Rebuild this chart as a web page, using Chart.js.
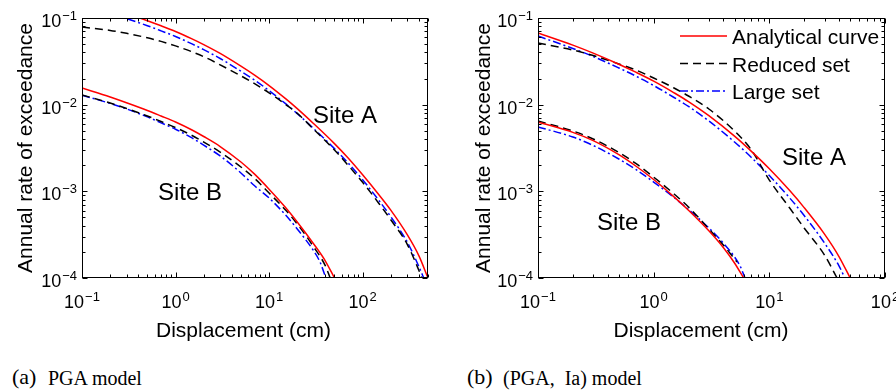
<!DOCTYPE html>
<html>
<head>
<meta charset="utf-8">
<script src="https://cdn.jsdelivr.net/npm/chart.js@4"></script>
<style>
  body { margin: 0; width: 896px; height: 391px; background: #fff; position: relative; overflow: hidden; }
  canvas { position: absolute; top: 0; }
  .cap { position: absolute; top: 368px; line-height: 20px; font-family: "Liberation Serif", "Times New Roman", serif; font-size: 20px; white-space: pre; color: #000; }
  .cap.big { font-size: 22px; top: 367px; }
</style>
</head>
<body>
<canvas id="chartA" width="448" height="350" style="left:0"></canvas>
<canvas id="chartB" width="448" height="350" style="left:448px"></canvas>
<div class="cap big" style="left:12px">(a)</div>
<div class="cap" style="left:48px">PGA model</div>
<div class="cap big" style="left:467px">(b)</div>
<div class="cap" style="left:503px">(PGA,  Ia) model</div>

<script>
// ---- (a) PGA model ----
const aSiteA_analyticalX = [0.1, 0.2, 0.3, 0.5, 0.7, 1, 1.5, 2, 3, 5, 7, 10, 15, 20, 30, 50, 70, 100, 150, 200, 300, 400, 500];
const aSiteA_analytical  = [0.164, 0.130, 0.1127, 0.0931, 0.0813, 0.0699, 0.0574, 0.0493, 0.039, 0.0278, 0.0219, 0.0166, 0.01172, 0.009,
                            0.00603, 0.00355, 0.00242, 0.00155, 9.07e-4, 6.06e-4, 3.16e-4, 1.8e-4, 1.0e-4];
const aSiteA_reducedX    = [0.1, 0.2, 0.3, 0.5, 0.7, 1, 1.5, 2, 3, 5, 7, 10, 15, 20, 30, 50, 70, 100, 150, 200, 300, 400, 430];
const aSiteA_reduced     = [0.0787, 0.0719, 0.0666, 0.0591, 0.0537, 0.0477, 0.0407, 0.0358, 0.0288, 0.0215, 0.01746, 0.0137, 0.01007, 0.00795,
                            0.0052, 0.003, 0.002, 0.00127, 7.2e-4, 4.7e-4, 2.45e-4, 1.22e-4, 1.0e-4];
const aSiteA_largeX      = [0.1, 0.2, 0.3, 0.5, 0.7, 1, 1.5, 2, 3, 5, 7, 10, 15, 20, 30, 50, 70, 100, 150, 200, 300, 400, 450];
const aSiteA_large       = [0.143, 0.114, 0.0986, 0.0815, 0.0711, 0.0612, 0.0502, 0.0431, 0.0341, 0.0243, 0.0192, 0.01453, 0.01026, 0.00788,
                            0.00528, 0.00311, 0.00212, 0.00136, 7.8e-4, 5.1e-4, 2.6e-4, 1.35e-4, 1.0e-4];

const aSiteB_analyticalX = [0.1, 0.2, 0.3, 0.5, 0.7, 1, 1.5, 2, 3, 5, 7, 10, 15, 20, 30, 40, 50];
const aSiteB_analytical  = [0.01557, 0.01227, 0.01051, 0.00857, 0.0074, 0.00631, 0.0051, 0.00429, 0.00329, 0.00218, 0.00158, 0.00106,
                            6.51e-4, 4.43e-4, 2.47e-4, 1.57e-4, 1.0e-4];
const aSiteB_reducedX    = [0.1, 0.2, 0.3, 0.5, 0.7, 1, 1.5, 2, 3, 5, 7, 10, 15, 20, 30, 40, 45];
const aSiteB_reduced     = [0.01293, 0.01045, 0.00903, 0.0074, 0.00639, 0.00545, 0.00441, 0.00371, 0.00284, 0.00191, 0.00141, 9.57e-4,
                            6.09e-4, 4.2e-4, 2.28e-4, 1.38e-4, 1.0e-4];
const aSiteB_largeX      = [0.1, 0.2, 0.3, 0.5, 0.7, 1, 1.5, 2, 3, 5, 7, 10, 15, 20, 30, 35, 40.5];
const aSiteB_large       = [0.01283, 0.01034, 0.00893, 0.00723, 0.00617, 0.00521, 0.00413, 0.00341, 0.00256, 0.00163, 0.00116, 8.38e-4,
                            5.33e-4, 3.68e-4, 2.05e-4, 1.53e-4, 1.0e-4];

// ---- (b) (PGA, Ia) model ----
const bSiteA_analyticalX = [0.1, 0.2, 0.3, 0.5, 0.7, 1, 1.5, 2, 3, 5, 7, 10, 15, 20, 30, 40, 50];
const bSiteA_analytical  = [0.0671, 0.0486, 0.0393, 0.0293, 0.0237, 0.01866, 0.01371, 0.01085, 0.00746, 0.00433, 0.00289, 0.00182,
                            0.00102, 6.49e-4, 3.21e-4, 1.77e-4, 1.0e-4];
const bSiteA_reducedX    = [0.1, 0.2, 0.3, 0.5, 0.7, 1, 1.5, 2, 3, 5, 7, 10, 15, 20, 30, 38.5];
const bSiteA_reduced     = [0.0515, 0.0427, 0.0369, 0.0295, 0.0251, 0.0203, 0.01557, 0.01259, 0.00891, 0.00497, 0.0030, 0.00135,
                            6.42e-4, 3.78e-4, 1.84e-4, 1.0e-4];
const bSiteA_largeX      = [0.1, 0.2, 0.3, 0.5, 0.7, 1, 1.5, 2, 3, 5, 7, 10, 15, 20, 30, 40, 45];
const bSiteA_large       = [0.062, 0.0445, 0.036, 0.0265, 0.0214, 0.01664, 0.0121, 0.00953, 0.00648, 0.00371, 0.00246, 0.00152,
                            8.38e-4, 5.26e-4, 2.53e-4, 1.38e-4, 1.0e-4];

const bSiteB_analyticalX = [0.1, 0.2, 0.3, 0.5, 0.7, 1, 1.5, 2, 3, 4, 5, 6];
const bSiteB_analytical  = [0.00631, 0.00479, 0.00385, 0.00265, 0.00196, 0.00137, 8.63e-4, 6.06e-4, 3.51e-4, 2.25e-4, 1.49e-4, 1.0e-4];
const bSiteB_reducedX    = [0.1, 0.2, 0.3, 0.5, 0.7, 1, 1.5, 2, 3, 4, 5.25];
const bSiteB_reduced     = [0.00648, 0.00497, 0.00402, 0.00281, 0.0021, 0.00146, 9.32e-4, 6.6e-4, 3.68e-4, 2.4e-4, 1.53e-4];
const bSiteB_largeX      = [0.1, 0.2, 0.3, 0.5, 0.7, 1, 1.5, 2, 3, 4, 5, 5.58, 6.16];
const bSiteB_large       = [0.00553, 0.00424, 0.00338, 0.00236, 0.00179, 0.00128, 8.49e-4, 6.17e-4, 3.78e-4, 2.53e-4, 1.75e-4, 1.38e-4, 1.0e-4];

// axes
const xExpA = [-1, 0, 1, 2];      // decade labels, left plot (x up to 500)
const xExpB = [-1, 0, 1, 2];
const yExp  = [-4, -3, -2, -1];
const seriesNames = ['Analytical curve', 'Reduced set', 'Large set'];

const FONT = '"Liberation Sans", Arial, Helvetica, sans-serif';

const styles = [
  { borderColor: '#ff0000', borderDash: [] },
  { borderColor: '#000000', borderDash: [8, 5] },
  { borderColor: '#0000ff', borderDash: [8, 3, 2, 3] }
];

function pts(xs, ys) {
  return xs.map((x, i) => ({ x: x, y: ys[i] }));
}

function ds(xs, ys, k) {
  return {
    label: seriesNames[k],
    data: pts(xs, ys),
    borderColor: styles[k].borderColor,
    borderDash: styles[k].borderDash,
    borderWidth: 1.5,
    pointRadius: 0,
    fill: false,
    cubicInterpolationMode: 'monotone'
  };
}

function expText(e) {
  return e < 0 ? '\u2212' + (-e) : String(e);
}

// draw "10" with superscript exponent
function drawPow(ctx, x, baseline, e, align) {
  ctx.font = '18px ' + FONT;
  const wb = ctx.measureText('10').width;
  ctx.font = '13px ' + FONT;
  const s = expText(e);
  const ws = ctx.measureText(s).width;
  const total = wb + ws + 1;
  const start = align === 'center' ? x - total / 2 : x - total;
  ctx.textAlign = 'left';
  ctx.font = '18px ' + FONT;
  ctx.fillText('10', start, baseline);
  ctx.font = '13px ' + FONT;
  ctx.fillText(s, start + wb + 1, baseline - 7);
}

// MATLAB-like box, inward ticks, labels, titles
const matlabAxes = {
  id: 'matlabAxes',
  afterDatasetsDraw(chart, args, opts) {
    const ctx = chart.ctx;
    const a = chart.chartArea;
    const xs = chart.scales.x, ys = chart.scales.y;
    ctx.save();
    ctx.strokeStyle = '#000';
    ctx.fillStyle = '#000';
    ctx.lineWidth = 1;
    ctx.setLineDash([]);

    const L = Math.round(a.left) + 0.5, R = Math.round(a.right) - 0.5;
    const T = Math.round(a.top) + 0.5, B = Math.round(a.bottom) - 0.5;
    ctx.strokeRect(L, T, R - L, B - T);

    ctx.beginPath();
    for (let d = -1; d <= 3; d++) {
      for (let m = 1; m <= 9; m++) {
        const v = m * Math.pow(10, d);
        if (v < xs.min * 0.999 || v > xs.max * 1.001) continue;
        const px = Math.round(xs.getPixelForValue(v)) + 0.5;
        const len = m === 1 ? 5 : 3;
        ctx.moveTo(px, B); ctx.lineTo(px, B - len);
        ctx.moveTo(px, T); ctx.lineTo(px, T + len);
      }
    }
    for (let d = -4; d <= -1; d++) {
      for (let m = 1; m <= 9; m++) {
        const v = m * Math.pow(10, d);
        if (v < ys.min * 0.999 || v > ys.max * 1.001) continue;
        const py = Math.round(ys.getPixelForValue(v)) + 0.5;
        const len = m === 1 ? 5 : 3;
        ctx.moveTo(L, py); ctx.lineTo(L + len, py);
        ctx.moveTo(R, py); ctx.lineTo(R - len, py);
      }
    }
    ctx.stroke();

    // tick labels
    ctx.textBaseline = 'alphabetic';
    opts.xExp.forEach(e => drawPow(ctx, xs.getPixelForValue(Math.pow(10, e)), a.bottom + 30, e, 'center'));
    yExp.forEach(e => drawPow(ctx, a.left - 5, ys.getPixelForValue(Math.pow(10, e)) + 9, e, 'right'));

    // axis titles
    ctx.font = '21px ' + FONT;
    ctx.textAlign = 'center';
    ctx.fillText('Displacement (cm)', opts.xTitleX, 337);
    ctx.save();
    ctx.translate(opts.yTitleX, (a.top + a.bottom) / 2);
    ctx.rotate(-Math.PI / 2);
    ctx.fillText('Annual rate of exceedance', 0, 0);
    ctx.restore();

    // site labels
    ctx.font = '24px ' + FONT;
    ctx.textAlign = 'left';
    opts.sites.forEach(s => ctx.fillText(s.text, s.x, s.y));

    // legend
    if (opts.legend) {
      const lg = opts.legend;
      ctx.font = '21px ' + FONT;
      seriesNames.forEach((name, k) => {
        const cy = lg.y + k * 27.5;
        ctx.strokeStyle = styles[k].borderColor;
        ctx.lineWidth = 1.5;
        ctx.setLineDash(styles[k].borderDash);
        ctx.beginPath();
        ctx.moveTo(lg.x, cy); ctx.lineTo(lg.x + 47, cy);
        ctx.stroke();
        ctx.fillStyle = '#000';
        ctx.fillText(name, lg.x + 52, cy + 8);
      });
    }
    ctx.restore();
  }
};

function makeChart(id, datasets, xMax, padding, axOpts) {
  return new Chart(document.getElementById(id), {
    type: 'line',
    data: { datasets: datasets },
    options: {
      responsive: false,
      animation: false,
      devicePixelRatio: 1,
      layout: { padding: padding },
      plugins: {
        legend: { display: false },
        tooltip: { enabled: false },
        matlabAxes: axOpts
      },
      scales: {
        x: { type: 'logarithmic', min: 0.1, max: xMax, display: false },
        y: { type: 'logarithmic', min: 1e-4, max: 0.1, display: false }
      }
    },
    plugins: [matlabAxes]
  });
}

window.chartA = makeChart('chartA', [
  ds(aSiteA_analyticalX, aSiteA_analytical, 0),
  ds(aSiteA_reducedX, aSiteA_reduced, 1),
  ds(aSiteA_largeX, aSiteA_large, 2),
  ds(aSiteB_analyticalX, aSiteB_analytical, 0),
  ds(aSiteB_reducedX, aSiteB_reduced, 1),
  ds(aSiteB_largeX, aSiteB_large, 2)
], 500, { left: 82, right: 20, top: 18, bottom: 72 }, {
  xExp: xExpA, xTitleX: 243.5, yTitleX: 32,
  sites: [{ text: 'Site A', x: 313, y: 123 }, { text: 'Site B', x: 158, y: 200 }]
});

window.chartB = makeChart('chartB', [
  ds(bSiteA_analyticalX, bSiteA_analytical, 0),
  ds(bSiteA_reducedX, bSiteA_reduced, 1),
  ds(bSiteA_largeX, bSiteA_large, 2),
  ds(bSiteB_analyticalX, bSiteB_analytical, 0),
  ds(bSiteB_reducedX, bSiteB_reduced, 1),
  ds(bSiteB_largeX, bSiteB_large, 2)
], 100, { left: 90, right: 11, top: 18, bottom: 72 }, {
  xExp: xExpB, xTitleX: 253, yTitleX: 42,
  sites: [{ text: 'Site A', x: 334, y: 165 }, { text: 'Site B', x: 149, y: 230 }],
  legend: { x: 232, y: 36 }
});
</script>
</body>
</html>
